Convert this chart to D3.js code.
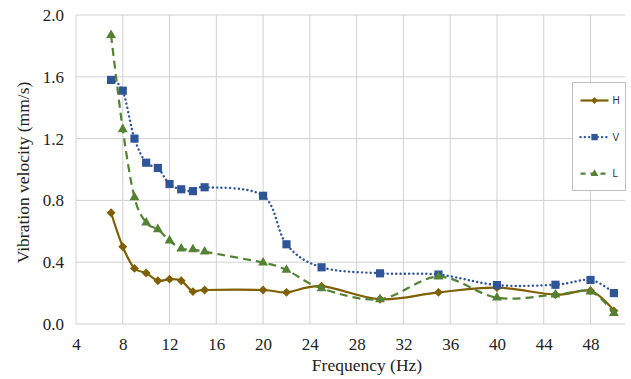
<!DOCTYPE html>
<html>
<head>
<meta charset="utf-8">
<script src="https://cdn.jsdelivr.net/npm/d3@7"></script>
<style>
  html, body { margin: 0; padding: 0; background: #fff; }
  svg { display: block; }
  .serif { font-family: "Liberation Serif", "Times New Roman", Times, "DejaVu Serif", serif; }
  .sans { font-family: "Liberation Sans", Arial, sans-serif; }
</style>
</head>
<body>
<svg id="chart" width="631" height="379"></svg>
<script>
// Vibration velocity measured in three directions over a frequency sweep
const frequency = [7, 8, 9, 10, 11, 12, 13, 14, 15, 20, 22, 25, 30, 35, 40, 45, 48, 50];
const seriesH = [0.72, 0.50, 0.36, 0.33, 0.28, 0.29, 0.28, 0.21, 0.22, 0.22, 0.205, 0.245, 0.16, 0.205, 0.235, 0.19, 0.215, 0.085];
const seriesV = [1.58, 1.51, 1.20, 1.044, 1.01, 0.906, 0.872, 0.86, 0.885, 0.83, 0.516, 0.367, 0.328, 0.32, 0.252, 0.254, 0.285, 0.20];
const seriesL = [1.87, 1.26, 0.82, 0.656, 0.613, 0.54, 0.487, 0.483, 0.468, 0.397, 0.35, 0.23, 0.16, 0.306, 0.17, 0.19, 0.21, 0.07];
const xTicks = [4, 8, 12, 16, 20, 24, 28, 32, 36, 40, 44, 48];
const yTicks = [0.0, 0.4, 0.8, 1.2, 1.6, 2.0];
const seriesNames = ["H", "V", "L"];

const svg = d3.select("#chart");
const margin = { left: 76, right: 6, top: 15, bottom: 55 };
const W = 631, H = 379;

const x = d3.scaleLinear().domain([4, 50.95]).range([margin.left, W - margin.right]);
const y = d3.scaleLinear().domain([0, 2.0]).range([H - margin.bottom, margin.top]);

const gridColor = "#d0d0d0";

// grid
const grid = svg.append("g");
grid.selectAll("line.h").data(yTicks).join("line")
  .attr("x1", x(4)).attr("x2", x.range()[1])
  .attr("y1", d => y(d)).attr("y2", d => y(d))
  .attr("stroke", gridColor).attr("stroke-width", 1);
grid.selectAll("line.v").data(xTicks).join("line")
  .attr("x1", d => x(d)).attr("x2", d => x(d))
  .attr("y1", y(0)).attr("y2", y(2.0))
  .attr("stroke", gridColor).attr("stroke-width", 1);

// axes (labels only, gridlines serve as frame)
const xAxis = d3.axisBottom(x).tickValues(xTicks).tickSize(0).tickPadding(14).tickFormat(d3.format("d"));
const gx = svg.append("g").attr("transform", `translate(0,${y(0)})`).call(xAxis);
gx.attr("font-family", null).attr("font-size", null);
gx.select(".domain").remove();
gx.selectAll("text").attr("class", "serif").style("font-size", "17px").attr("fill", "#222");

const yAxis = d3.axisLeft(y).tickValues(yTicks).tickSize(0).tickPadding(12).tickFormat(d3.format(".1f"));
const gy = svg.append("g").attr("transform", `translate(${x(4)},0)`).call(yAxis);
gy.attr("font-family", null).attr("font-size", null);
gy.select(".domain").remove();
gy.selectAll("text").attr("class", "serif").style("font-size", "17px").attr("fill", "#222");

// axis titles
svg.append("text").attr("class", "serif")
  .attr("x", 367).attr("y", H - 8)
  .attr("text-anchor", "middle").style("font-size", "17.5px").attr("fill", "#222")
  .text("Frequency (Hz)");
svg.append("text").attr("class", "serif")
  .attr("transform", `translate(29,${(y(0) + y(2)) / 2 + 3}) rotate(-90)`)
  .attr("text-anchor", "middle").style("font-size", "17.5px").attr("fill", "#222")
  .text("Vibration velocity (mm/s)");

// series
const styles = {
  H: { color: "#7f6000", dash: null, width: 2.2, cap: "butt", marker: d3.symbolDiamond2, size: 50 },
  V: { color: "#2f5597", dash: "0.1 4.2", width: 2.4, cap: "round", marker: d3.symbolSquare2, size: 85 },
  L: { color: "#548235", dash: "8 5", width: 2.2, cap: "butt", marker: d3.symbolTriangle2, size: 70 }
};
const data = { H: seriesH, V: seriesV, L: seriesL };

const line = d3.line()
  .x(d => x(d[0])).y(d => y(d[1]))
  .curve(d3.curveCardinal.tension(0));

const filledSymbol = (type, size) => d3.symbol().type(type).size(size);

seriesNames.forEach(name => {
  const st = styles[name];
  const pts = frequency.map((f, i) => [f, data[name][i]]);
  const g = svg.append("g");
  g.append("path").datum(pts)
    .attr("d", line).attr("fill", "none")
    .attr("stroke", st.color).attr("stroke-width", st.width)
    .attr("stroke-linecap", st.cap)
    .attr("stroke-dasharray", st.dash);
  g.selectAll("path.m").data(pts).join("path")
    .attr("class", "m")
    .attr("transform", d => `translate(${x(d[0])},${y(d[1])})`)
    .attr("d", filledSymbol(st.marker, st.size))
    .attr("fill", st.color);
});

// legend
const lg = svg.append("g").attr("transform", "translate(572.5,82.5)");
lg.append("rect").attr("width", 53).attr("height", 108)
  .attr("fill", "#fff").attr("stroke", "#bfbfbf").attr("stroke-width", 1);
seriesNames.forEach((name, i) => {
  const st = styles[name];
  const cy = 18 + i * 36.6;
  lg.append("line").attr("x1", 8).attr("x2", 36).attr("y1", cy).attr("y2", cy)
    .attr("stroke", st.color).attr("stroke-width", st.width)
    .attr("stroke-linecap", st.cap)
    .attr("stroke-dasharray", name === "L" ? "5 5" : st.dash);
  lg.append("path").attr("transform", `translate(22,${cy})`)
    .attr("d", filledSymbol(st.marker, st.size * 0.6)).attr("fill", st.color);
  lg.append("text").attr("class", "sans").attr("x", 40).attr("y", cy).attr("dy", "0.35em")
    .style("font-size", "10px").attr("fill", "#333")
    .text(name);
});
</script>
</body>
</html>
